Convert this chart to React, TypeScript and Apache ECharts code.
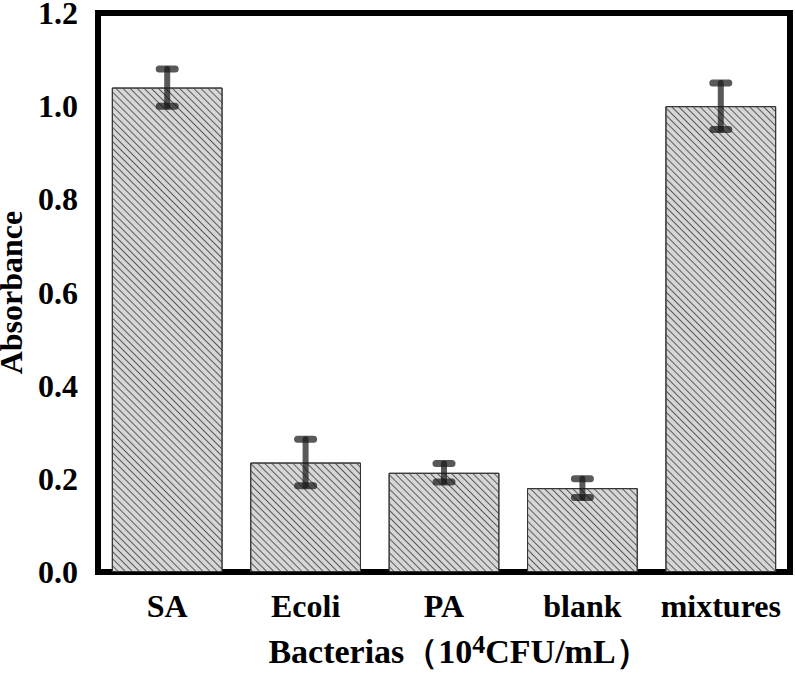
import React, { useEffect, useRef } from "react";
import * as echarts from "echarts";

const categories = ["SA", "Ecoli", "PA", "blank", "mixtures"];
const absorbance = [1.04, 0.235, 0.213, 0.18, 1.0];
const errors = [0.04, 0.05, 0.02, 0.02, 0.05];
const yTicks = [0, 0.2, 0.4, 0.6, 0.8, 1.0, 1.2];

export default function App() {
  const ref = useRef<HTMLDivElement>(null);
  useEffect(() => {
    if (!ref.current) return;
    const chart = echarts.init(ref.current, null, { renderer: "svg" });
    const font = "'Liberation Serif', 'Times New Roman', serif";
    const errData = absorbance.map((v, i) => [i, v - errors[i], v + errors[i]]);
    chart.setOption({
      animation: false,
      grid: {
        left: 98,
        right: 5,
        top: 13,
        bottom: 104,
        show: true,
        borderColor: "#000",
        borderWidth: 6,
        backgroundColor: "transparent",
        containLabel: false,
        outerBoundsMode: "none",
      },
      xAxis: {
        type: "category",
        data: categories,
        axisLine: { show: false },
        axisTick: { show: false },
        axisLabel: {
          interval: 0,
          margin: 18,
          fontFamily: font,
          fontWeight: "bold",
          fontSize: 32,
          color: "#000",
        },
        name: "Bacterias（10{sup|4}CFU/mL）",
        nameLocation: "middle",
        nameGap: 59,
        nameTextStyle: {
          fontFamily: font,
          fontWeight: "bold",
          fontSize: 34,
          color: "#000",
          padding: [0, 0, 0, 30],
          rich: {
            sup: {
              fontFamily: font,
              fontWeight: "bold",
              fontSize: 26,
              color: "#000",
              verticalAlign: "top",
              padding: [0, 0, 14, 0],
            },
          },
        },
      },
      yAxis: {
        type: "value",
        min: yTicks[0],
        max: yTicks[yTicks.length - 1],
        interval: 0.2,
        axisLine: { show: false },
        axisTick: { show: false },
        splitLine: { show: false },
        axisLabel: {
          margin: 20,
          fontFamily: font,
          fontWeight: "bold",
          fontSize: 32,
          lineHeight: 26,
          color: "#000",
          formatter: (v: number) => v.toFixed(1),
        },
        name: "Absorbance",
        nameLocation: "middle",
        nameGap: 70,
        nameRotate: 90,
        nameTextStyle: {
          fontFamily: font,
          fontWeight: "bold",
          fontSize: 32,
          lineHeight: 28,
          color: "#000",
        },
      },
      series: [
        {
          type: "bar",
          data: absorbance,
          barWidth: "80%",
          itemStyle: {
            color: "#d6d6d6",
            borderColor: "#333",
            borderWidth: 1,
            decal: {
              symbol: "rect",
              symbolSize: 1,
              dashArrayX: [1, 0],
              dashArrayY: [1, 4],
              rotation: Math.PI / 4,
              color: "#5a5a5a",
            },
          },
        },
        {
          type: "custom",
          data: errData,
          z: 10,
          renderItem: (params: any, api: any) => {
            const i = api.value(0);
            const lo = api.coord([i, api.value(1)]);
            const hi = api.coord([i, api.value(2)]);
            const x = lo[0];
            const st = {
              stroke: "rgba(25,25,25,0.72)",
              lineWidth: 6,
              lineCap: "round",
            };
            const cs = {
              stroke: "rgba(25,25,25,0.72)",
              lineWidth: 7,
              lineCap: "round",
            };
            return {
              type: "group",
              children: [
                { type: "line", shape: { x1: x, y1: hi[1], x2: x, y2: lo[1] }, style: st },
                { type: "line", shape: { x1: x - 8, y1: hi[1], x2: x + 8, y2: hi[1] }, style: cs },
                { type: "line", shape: { x1: x - 8, y1: lo[1], x2: x + 8, y2: lo[1] }, style: cs },
              ],
            };
          },
        },
      ],
    });
    return () => chart.dispose();
  }, []);
  return <div ref={ref} style={{ width: 795, height: 676, position: "absolute", left: 0, top: 0 }} />;
}
